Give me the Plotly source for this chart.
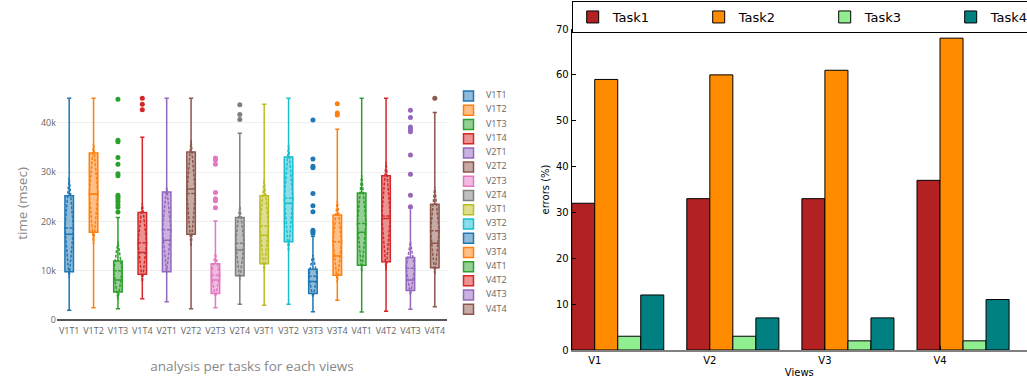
import plotly.graph_objects as go

# ---------------- data: left panel (time per task/view, msec) ----------------
names = ["V1T1", "V1T2", "V1T3", "V1T4", "V2T1", "V2T2", "V2T3", "V2T4",
         "V3T1", "V3T2", "V3T3", "V3T4", "V4T1", "V4T2", "V4T3", "V4T4"]
colors = ["#1f77b4", "#ff7f0e", "#2ca02c", "#d62728", "#9467bd", "#8c564b",
          "#e377c2", "#7f7f7f", "#bcbd22", "#17becf", "#1f77b4", "#ff7f0e",
          "#2ca02c", "#d62728", "#9467bd", "#8c564b"]
q1 = [9800, 17800, 5700, 9300, 9800, 17400, 5400, 9000,
      11400, 15900, 5400, 9100, 11100, 11800, 6000, 10600]
median = [17400, 25600, 8100, 13700, 16200, 26600, 8100, 14200,
          17200, 23700, 7800, 13000, 17800, 20600, 8100, 15600]
q3 = [25200, 33900, 12000, 21800, 26000, 34100, 11400, 20800,
      25200, 33100, 10300, 21300, 25800, 29300, 12700, 23500]
lowerfence = [2000, 2500, 2300, 4300, 3700, 2300, 2500, 3200,
              3000, 3200, 1700, 4000, 1600, 1800, 2200, 2700]
upperfence = [45000, 45000, 20800, 37100, 45000, 45000, 20100, 37900,
              43800, 45000, 17000, 38700, 45000, 45000, 22800, 42100]
mean = [18700, 25600, 10000, 15700, 18300, 25700, 9100, 15600,
        19100, 24700, 8900, 15900, 19600, 21100, 10500, 18100]
sd = [10200, 10200, 5900, 8000, 8700, 10800, 4400, 7500,
      9400, 10800, 4300, 8300, 9800, 11000, 5400, 8900]
outliers = {
    "V1T3": [44800, 36500, 36200, 33000, 31600, 29700, 29300, 25300, 24900,
             24400, 24000, 23400, 22900, 21900],
    "V1T4": [45000, 43800, 42700],
    "V2T3": [32900, 32500, 31600, 25900, 24600, 24200, 22800],
    "V2T4": [43700, 41700, 40700],
    "V3T3": [40600, 32700, 31200, 30900, 25700, 23200, 22000, 18200, 17900, 17600],
    "V3T4": [43900, 42000, 41600],
    "V4T3": [42600, 41100, 39200, 38700, 38200, 33500, 29600, 25300, 23000],
    "V4T4": [45000],
}
yticks_left = [0, 10000, 20000, 30000, 40000]
yticks_left_text = ["0", "10k", "20k", "30k", "40k"]

# ---------------- data: right panel (errors %) ----------------
views = ["V1", "V2", "V3", "V4"]
tasks = ["Task1", "Task2", "Task3", "Task4"]
errors = {
    "Task1": [32, 33, 33, 37],
    "Task2": [59, 60, 61, 68],
    "Task3": [3, 3, 2, 2],
    "Task4": [12, 7, 7, 11],
}
bar_colors = ["#b22222", "#ff8c00", "#90ee90", "#008080"]
group_pos = [0, 1, 2, 3]
bar_w = 0.2


def rgba(hexc, a):
    h = hexc.lstrip("#")
    return "rgba(%d,%d,%d,%s)" % (int(h[0:2], 16), int(h[2:4], 16), int(h[4:6], 16), a)


W, H = 1027, 379
fig = go.Figure()

# --- boxes ---
for i, n in enumerate(names):
    fig.add_trace(go.Box(
        x=[n], q1=[q1[i]], median=[median[i]], q3=[q3[i]],
        lowerfence=[lowerfence[i]], upperfence=[upperfence[i]],
        mean=[mean[i]], sd=[sd[i]], boxmean="sd", name=n,
        marker_color=colors[i], line=dict(color=colors[i], width=1.5),
        fillcolor=rgba(colors[i], 0.5), whiskerwidth=0.5,
        showlegend=False, xaxis="x", yaxis="y", hoverinfo="skip"))
    if n in outliers:
        fig.add_trace(go.Scatter(
            x=[n] * len(outliers[n]), y=outliers[n], mode="markers",
            marker=dict(color=colors[i], size=5), showlegend=False,
            xaxis="x", yaxis="y", hoverinfo="skip"))

# --- legend for the boxes, drawn through its own small axis ---
fig.add_trace(go.Scatter(
    x=[13.5] * len(names), y=list(range(len(names))), mode="markers",
    marker=dict(symbol="square", size=10,
                color=[rgba(c, 0.5) for c in colors],
                line=dict(color=colors, width=1.5)),
    showlegend=False, xaxis="x2", yaxis="y2", hoverinfo="skip"))
fig.add_trace(go.Scatter(
    x=[31] * len(names), y=list(range(len(names))), mode="text",
    text=names, textposition="middle right",
    textfont=dict(family="Open Sans", size=9, color="#666"),
    showlegend=False, xaxis="x2", yaxis="y2", hoverinfo="skip"))

# --- bars ---
for k, t in enumerate(tasks):
    fig.add_trace(go.Bar(
        x=group_pos, y=errors[t], name=t, width=bar_w, offset=k * bar_w,
        marker=dict(color=bar_colors[k], line=dict(color="black", width=1)),
        xaxis="x3", yaxis="y3"))

left_font = "Open Sans"
mpl_font = "DejaVu Sans"
x3_range = [0, (W - 571.7) / 115.1]

fig.update_layout(
    width=W, height=H, margin=dict(l=0, r=0, t=0, b=0, autoexpand=False),
    paper_bgcolor="white", plot_bgcolor="white",
    barmode="overlay", boxgap=0.5,
    xaxis=dict(domain=[57 / W, 447 / W], anchor="y", type="category",
               categoryorder="array", categoryarray=names,
               range=[-0.5, 15.5], showgrid=False, showline=False,
               ticks="", ticklabelstandoff=4,
               tickfont=dict(family=left_font, size=9, color="#666"),
               title=dict(text="analysis per tasks for each views",
                          font=dict(family=left_font, size=13.5, color="#888"),
                          standoff=25)),
    yaxis=dict(domain=[(H - 320) / H, (H - 87) / H], anchor="x",
               range=[0, 47300], tickvals=yticks_left,
               ticktext=yticks_left_text,
               showgrid=True, gridcolor="#eee", zeroline=True,
               zerolinecolor="#555", zerolinewidth=1.5, showline=False,
               tickfont=dict(family=left_font, size=9, color="#666"),
               title=dict(text="time (msec)",
                          font=dict(family=left_font, size=13.5, color="#888"),
                          standoff=10)),
    xaxis2=dict(domain=[455 / W, 545 / W], anchor="y2", range=[0, 90],
                visible=False, fixedrange=True),
    yaxis2=dict(domain=[(H - 316.4) / H, (H - 88.9) / H], anchor="x2",
                range=[15.5, -0.5], visible=False, fixedrange=True),
    xaxis3=dict(domain=[571.7 / W, 1.0], anchor="y3", range=x3_range,
                tickvals=[p + bar_w for p in group_pos], ticktext=views,
                ticks="inside", ticklen=4, tickcolor="black",
                showline=True, linecolor="#808080", linewidth=2,
                showgrid=False, zeroline=False,
                tickfont=dict(family=mpl_font, size=10, color="black"),
                title=dict(text="Views", font=dict(family=mpl_font, size=10, color="black"),
                           standoff=4)),
    xaxis4=dict(overlaying="x3", side="top", anchor="y3", range=x3_range,
                tickvals=[p + bar_w for p in group_pos],
                ticks="inside", ticklen=4, tickcolor="black",
                showticklabels=False, showline=True, linecolor="black",
                linewidth=1, showgrid=False, zeroline=False),
    yaxis3=dict(domain=[(H - 350) / H, (H - 29) / H], anchor="x3",
                range=[0, 70], dtick=10, ticks="inside", ticklen=4,
                tickcolor="black", showline=True, linecolor="black",
                linewidth=1, mirror=False, showgrid=False, zeroline=False,
                tickfont=dict(family=mpl_font, size=10, color="black"),
                title=dict(text="errors (%)",
                           font=dict(family=mpl_font, size=10, color="black"),
                           standoff=4)),
    showlegend=True,
    legend=dict(orientation="h", x=571.7 / W, y=1 - 1.0 / H,
                xanchor="left", yanchor="top", bgcolor="white",
                bordercolor="black", borderwidth=1,
                font=dict(family=mpl_font, size=13, color="black"),
                entrywidth=81, entrywidthmode="pixels", traceorder="normal"),
)

fig.write_html("out.html", config={"displayModeBar": False},
               post_script="document.body.style.margin='0';document.body.style.overflow='hidden';")
